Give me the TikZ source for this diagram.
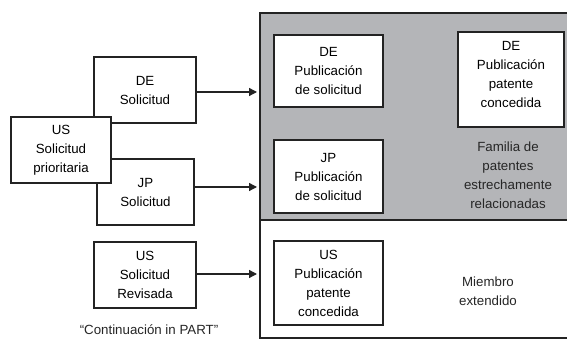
\documentclass[tikz,border=0pt]{standalone}
\usepackage{fontspec}
\setmainfont{Liberation Sans}
\usetikzlibrary{arrows.meta}
\definecolor{panelgray}{RGB}{180,181,184}
\definecolor{linegray}{RGB}{35,35,35}
\tikzset{
  box/.style={draw=linegray, line width=1.4pt, fill=white, align=center, inner sep=0pt,
    font=\fontsize{13.3}{19}\selectfont},
  lbl/.style={align=center, inner sep=0pt, font=\fontsize{13.3}{19}\selectfont, text=black!85},
  arr/.style={draw=linegray, line width=1.3pt, -{Triangle[length=8pt,width=8pt]}}
}
\begin{document}
\begin{tikzpicture}[x=1pt,y=-1pt]
\clip (0,0) rectangle (567,344);
\fill[white] (0,0) rectangle (567,344);
% outer container
\fill[panelgray] (260,13) rectangle (580,220);
\draw[linegray, line width=1.5pt] (260,13) rectangle (580,338);
\draw[linegray, line width=1.5pt] (260,220) -- (580,220);
% left boxes
\node[box, minimum width=102pt, minimum height=66pt] (de) at (145,90) {DE\\Solicitud};
\node[box, minimum width=97pt, minimum height=66pt] (jp) at (145.5,192) {JP\\Solicitud};
\node[box, minimum width=100pt, minimum height=66pt] (us) at (61,150) {US\\Solicitud\\prioritaria};
\node[box, minimum width=102pt, minimum height=66pt] (usrev) at (145,275) {US\\Solicitud\\Revisada};
\node[lbl] (cip) at (149,330) {“Continuación in PART”};
% right boxes
\node[box, minimum width=109pt, minimum height=72pt] (depub) at (328.5,71) {DE\\Publicación\\de solicitud};
\node[box, minimum width=106pt, minimum height=95pt] (depat) at (511,79.5) {DE\\Publicación\\patente\\concedida\\[-8pt]};
\node[box, minimum width=109pt, minimum height=73pt] (jppub) at (328.5,176.5) {JP\\Publicación\\de solicitud};
\node[box, minimum width=109pt, minimum height=84pt] (uspat) at (328.5,283) {US\\Publicación\\patente\\concedida};
\node[lbl] (fam) at (508,175) {Familia de\\patentes\\estrechamente\\relacionadas};
\node[lbl] (mie) at (488,291) {Miembro\\extendido};
% arrows
\coordinate (a1) at (257,92);
\coordinate (a2) at (257,187);
\coordinate (a3) at (257,274);
\draw[arr] (de.east |- a1) -- (a1);
\draw[arr] (jp.east |- a2) -- (a2);
\draw[arr] (usrev.east |- a3) -- (a3);
\end{tikzpicture}
\end{document}
